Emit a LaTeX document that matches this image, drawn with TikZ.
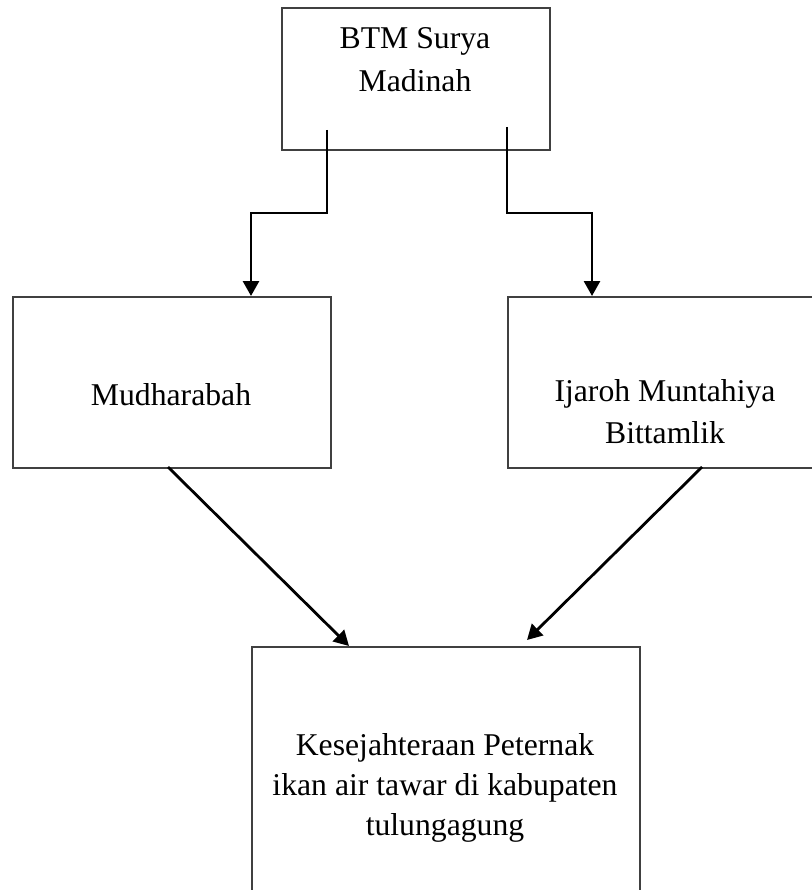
\documentclass[tikz,border=0pt]{standalone}
\usepackage{fontspec}
\setmainfont{Liberation Serif}
\usetikzlibrary{arrows.meta}
\begin{document}
\begin{tikzpicture}[x=1pt,y=-1pt,
  box/.style={draw=black!75, line width=1.6pt, rectangle, inner sep=0pt, anchor=north west},
  lbl/.style={font=\fontsize{31.7}{40}\selectfont, anchor=base, inner sep=0pt},
  conn/.style={draw=black, line width=2.8pt, line join=miter, -{Triangle[width=16pt,length=15pt]}}
]
\useasboundingbox (0,0) rectangle (811,890);
% boxes
\node[box, minimum width=268pt, minimum height=142pt] (top) at (281,7) {};
\node[box, minimum width=318pt, minimum height=171pt] (left) at (12,296) {};
\node[box, minimum width=316pt, minimum height=171pt] (right) at (507,296) {};
\node[box, minimum width=388pt, minimum height=280pt] (bottom) at (251,646) {};
% texts
\node[lbl] (t1a) at (415,48.3) {BTM Surya};
\node[lbl] (t1b) at (415,91.7) {Madinah};
\node[lbl] (t2) at (171,405) {Mudharabah};
\node[lbl] (t3a) at (665,401.7) {Ijaroh Muntahiya};
\node[lbl] (t3b) at (665,443.3) {Bittamlik};
\node[lbl] (t4a) at (445,755) {Kesejahteraan Peternak};
\node[lbl] (t4b) at (445,795) {ikan air tawar di kabupaten};
\node[lbl] (t4c) at (445,835) {tulungagung};
% connector end points
\coordinate (a1s) at (327,130);
\coordinate (a1m) at (327,213);
\coordinate (a1e) at (251,296);
\coordinate (a2s) at (507,127);
\coordinate (a2m) at (507,213);
\coordinate (a2e) at (592,296);
\coordinate (d1s) at (168,467);
\coordinate (d1e) at (349,646);
\coordinate (d2s) at (702,467);
\coordinate (d2e) at (527,640);
% connectors
\draw[conn] (a1s) -- (a1m) -| (a1e);
\draw[conn] (a2s) -- (a2m) -| (a2e);
\draw[conn] (d1s) -- (d1e);
\draw[conn] (d2s) -- (d2e);
\end{tikzpicture}
\end{document}
